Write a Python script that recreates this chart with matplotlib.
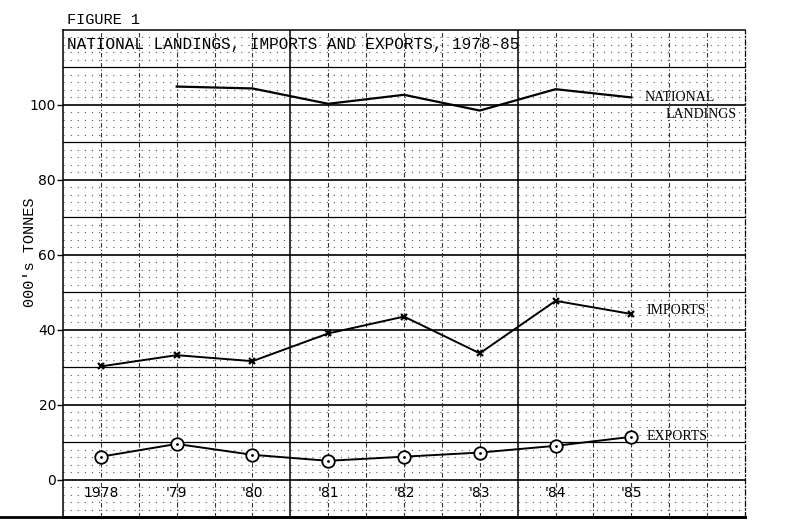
import matplotlib.pyplot as plt
import numpy as np

years = [1978, 1979, 1980, 1981, 1982, 1983, 1984, 1985]
year_labels = ["1978", "'79", "'80", "'81", "'82", "'83", "'84", "'85"]

landing_years = [1979, 1980, 1981, 1982, 1983, 1984, 1985]
landings = [104.9, 104.4, 100.3, 102.7, 98.5, 104.2, 102.0]
imports = [30.2, 33.2, 31.6, 39.0, 43.5, 33.7, 47.7, 44.2]
exports = [6.1, 9.5, 6.6, 5.0, 6.1, 7.2, 9.0, 11.4]

yticks = [0, 20, 40, 60, 80, 100]

mono = "Liberation Mono"
serif = "Liberation Serif"

fig = plt.figure(figsize=(7.92, 5.21), dpi=100)
ax = fig.add_axes([63 / 792, 1 - 517 / 521, (745 - 63) / 792, (517 - 30) / 521])
ax.set_xlim(1977.5, 1986.5)
ax.set_ylim(-10, 120)

# graph paper
for y in np.arange(-8, 120, 2):
    if y % 10:
        ax.axhline(y, color="#555555", lw=0.8, ls=(0, (1, 5.4)), zorder=0)
for y in range(0, 120, 10):
    ax.axhline(y, color="black", lw=1.2 if y % 20 == 0 else 0.9, zorder=1)
for x in np.arange(1978, 1986.5, 0.5):
    if (x - 1977.5) % 3 == 0:
        ax.axvline(x, color="black", lw=1.1, zorder=1)
    else:
        ax.axvline(x, color="#333333", lw=0.8, ls=(0, (4, 2, 1, 2)), zorder=1)

ax.plot(landing_years, landings, color="black", lw=1.6, zorder=3)
ax.plot(years, imports, color="black", lw=1.4, marker="x", ms=4.5, mew=1.6, zorder=3)
ax.plot(years, exports, color="black", lw=1.4, marker="o", ms=9, mfc="white",
        mec="black", mew=1.3, zorder=3)
ax.plot(years, exports, ls="none", marker=".", ms=2, color="black", zorder=4)

ax.set_xticks([])
ax.set_yticks(yticks)
ax.set_yticklabels([str(t) for t in yticks], fontsize=10)
ax.tick_params(axis="y", length=4, width=1, pad=1)
for s in ax.spines.values():
    s.set_linewidth(1.1)
ax.spines["bottom"].set_linewidth(2)
ax.spines["right"].set_linestyle((0, (4, 2, 1, 2)))
ax.spines["right"].set_linewidth(0.9)

for x, lab in zip(years, year_labels):
    ax.text(x, -3.6, lab, ha="center", va="center", fontsize=10)

ax.text(1977.55, 116.2, "NATIONAL LANDINGS, IMPORTS AND EXPORTS, 1978-85",
        family=mono, fontsize=11.5, ha="left", va="center")
ax.text(1985.18, 102.0, "NATIONAL", family=serif, fontsize=10, ha="left", va="center")
ax.text(1985.45, 97.4, "LANDINGS", family=serif, fontsize=10, ha="left", va="center")
ax.text(1985.2, 45.0, "IMPORTS", family=serif, fontsize=10, ha="left", va="center")
ax.text(1985.2, 11.4, "EXPORTS", family=serif, fontsize=10, ha="left", va="center")

fig.text(67 / 792, 1 - 20 / 521, "FIGURE 1", family=mono, fontsize=11, ha="left", va="center")
fig.text(30 / 792, 1 - 252 / 521, "000's TONNES", family=mono, fontsize=11,
         rotation=90, ha="center", va="center")
fig.add_artist(plt.Line2D([0, 745 / 792], [1 - 517 / 521] * 2, color="black", lw=2))

fig.savefig("out.png", dpi=100)
